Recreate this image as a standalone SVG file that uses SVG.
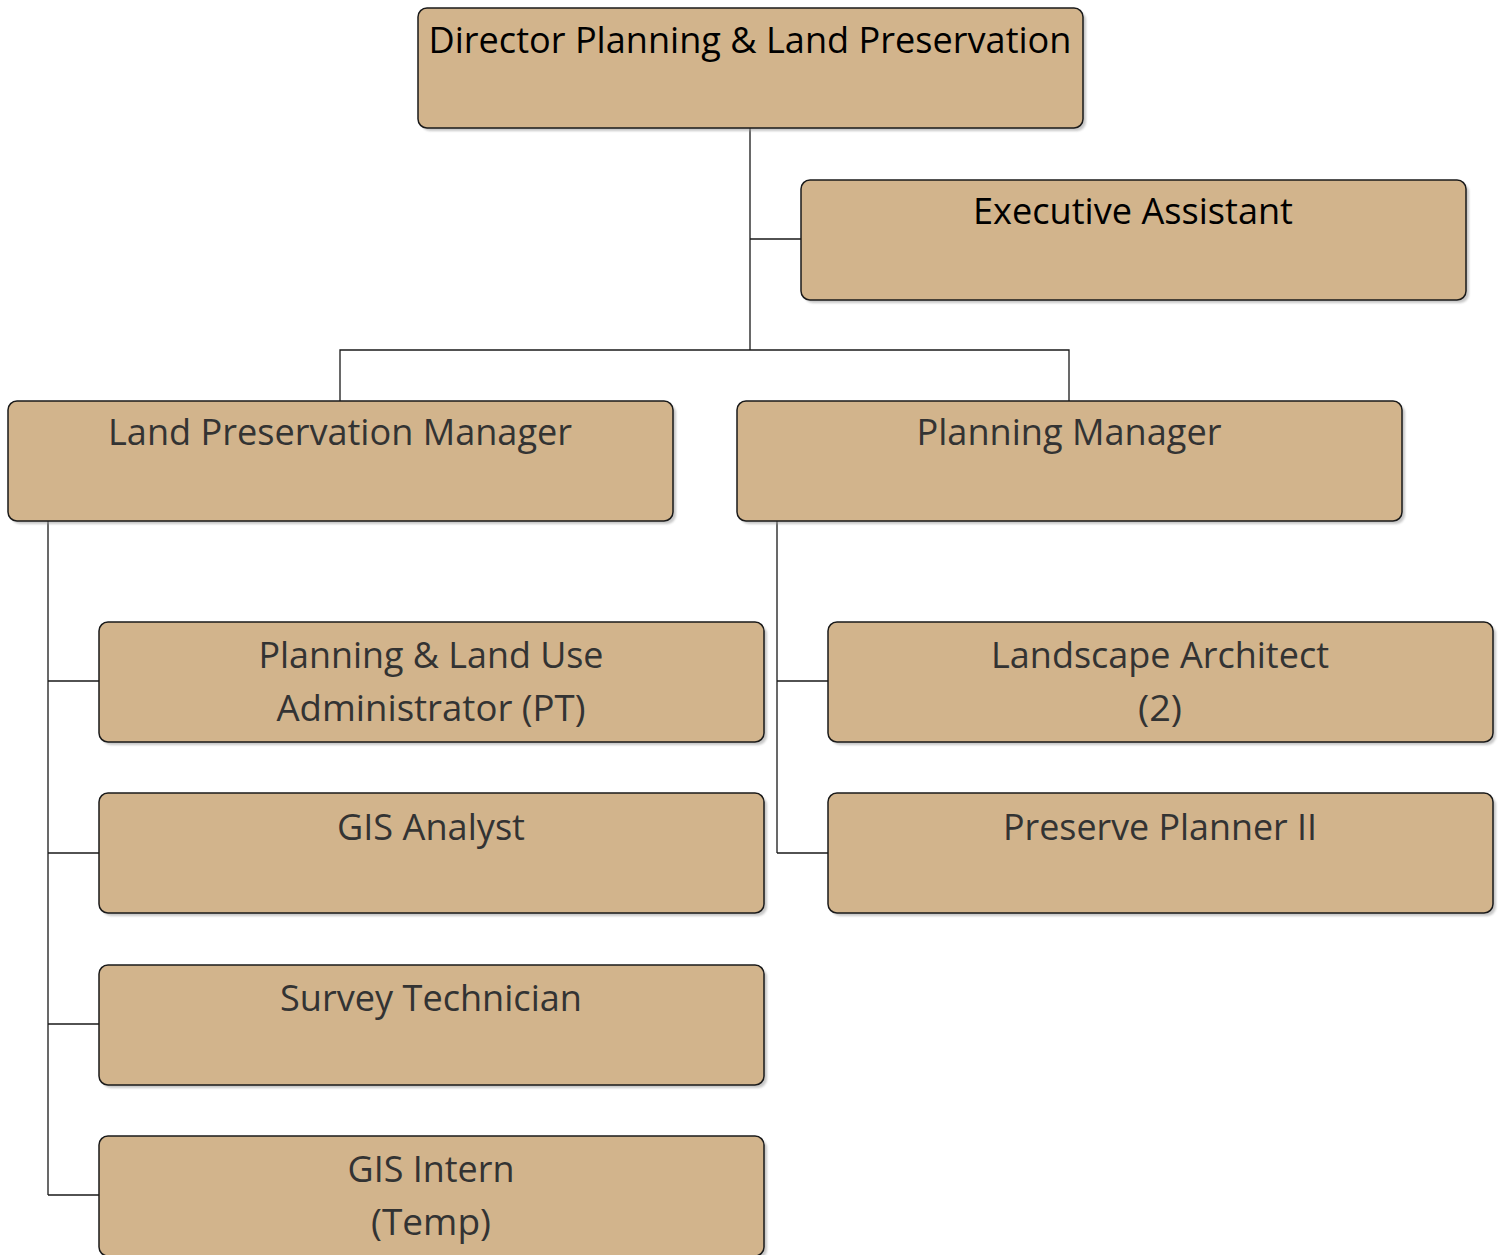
<svg xmlns="http://www.w3.org/2000/svg" width="1501" height="1255" viewBox="0 0 1501 1255">
<defs>
<style>
.box{fill:#D2B48C;stroke:#1a1a1a;stroke-width:1.5}
.sh{fill:#9a9a9a;opacity:0.55}
.t{font-family:"Open Sans","Noto Sans","Liberation Sans",sans-serif;font-size:36px;text-anchor:middle;fill:#333333}
.tb{fill:#000000}
.c{fill:none;stroke:#1a1a1a;stroke-width:1.3}
</style>
<filter id="blur" x="-5%" y="-5%" width="110%" height="115%"><feGaussianBlur stdDeviation="1.2"/></filter>
</defs>
<rect width="1501" height="1255" fill="#ffffff"/>
<g id="connectors">
<path class="c" d="M750,128 V350 M750,239 H801 M340,401 V350 H1069 V401"/>
<path class="c" d="M48,521 V1195 M48,681 H99 M48,853 H99 M48,1024 H99 M48,1195 H99"/>
<path class="c" d="M777,521 V853 M777,681 H828 M777,853 H828"/>
</g>
<g id="director">
<rect class="sh" x="421" y="11" width="665" height="120" rx="9" filter="url(#blur)"/>
<rect class="box" x="418" y="8" width="665" height="120" rx="9"/>
<text class="t tb" x="750" y="53" textLength="643" lengthAdjust="spacingAndGlyphs">Director Planning &amp; Land Preservation</text>
</g>
<g id="executive-assistant">
<rect class="sh" x="804" y="183" width="665" height="120" rx="9" filter="url(#blur)"/>
<rect class="box" x="801" y="180" width="665" height="120" rx="9"/>
<text class="t tb" x="1133" y="224" textLength="320" lengthAdjust="spacingAndGlyphs">Executive Assistant</text>
</g>
<g id="land-preservation-manager">
<rect class="sh" x="11" y="404" width="665" height="120" rx="9" filter="url(#blur)"/>
<rect class="box" x="8" y="401" width="665" height="120" rx="9"/>
<text class="t" x="340" y="445" textLength="464" lengthAdjust="spacingAndGlyphs">Land Preservation Manager</text>
</g>
<g id="planning-manager">
<rect class="sh" x="740" y="404" width="665" height="120" rx="9" filter="url(#blur)"/>
<rect class="box" x="737" y="401" width="665" height="120" rx="9"/>
<text class="t" x="1069" y="445" textLength="305" lengthAdjust="spacingAndGlyphs">Planning Manager</text>
</g>
<g id="planning-land-use-administrator">
<rect class="sh" x="102" y="625" width="665" height="120" rx="9" filter="url(#blur)"/>
<rect class="box" x="99" y="622" width="665" height="120" rx="9"/>
<text class="t" x="431" y="668" textLength="345" lengthAdjust="spacingAndGlyphs">Planning &amp; Land Use</text>
<text class="t" x="431" y="721" textLength="309" lengthAdjust="spacingAndGlyphs">Administrator (PT)</text>
</g>
<g id="gis-analyst">
<rect class="sh" x="102" y="796" width="665" height="120" rx="9" filter="url(#blur)"/>
<rect class="box" x="99" y="793" width="665" height="120" rx="9"/>
<text class="t" x="431" y="840" textLength="188" lengthAdjust="spacingAndGlyphs">GIS Analyst</text>
</g>
<g id="survey-technician">
<rect class="sh" x="102" y="968" width="665" height="120" rx="9" filter="url(#blur)"/>
<rect class="box" x="99" y="965" width="665" height="120" rx="9"/>
<text class="t" x="431" y="1011" textLength="302" lengthAdjust="spacingAndGlyphs">Survey Technician</text>
</g>
<g id="gis-intern">
<rect class="sh" x="102" y="1139" width="665" height="120" rx="9" filter="url(#blur)"/>
<rect class="box" x="99" y="1136" width="665" height="120" rx="9"/>
<text class="t" x="431" y="1182" textLength="167" lengthAdjust="spacingAndGlyphs">GIS Intern</text>
<text class="t" x="431" y="1235" textLength="120" lengthAdjust="spacingAndGlyphs">(Temp)</text>
</g>
<g id="landscape-architect">
<rect class="sh" x="831" y="625" width="665" height="120" rx="9" filter="url(#blur)"/>
<rect class="box" x="828" y="622" width="665" height="120" rx="9"/>
<text class="t" x="1160" y="668" textLength="338" lengthAdjust="spacingAndGlyphs">Landscape Architect</text>
<text class="t" x="1160" y="721" textLength="44" lengthAdjust="spacingAndGlyphs">(2)</text>
</g>
<g id="preserve-planner-ii">
<rect class="sh" x="831" y="796" width="665" height="120" rx="9" filter="url(#blur)"/>
<rect class="box" x="828" y="793" width="665" height="120" rx="9"/>
<text class="t" x="1160" y="840" textLength="314" lengthAdjust="spacingAndGlyphs">Preserve Planner II</text>
</g>
</svg>
